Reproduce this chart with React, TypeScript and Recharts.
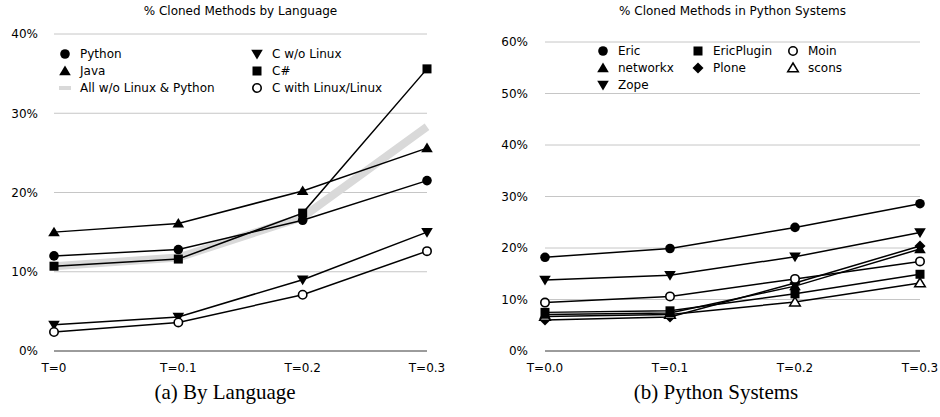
import { LineChart, Line, XAxis, YAxis, CartesianGrid, Legend, ReferenceLine } from "recharts";

const langTicks = ["T=0", "T=0.1", "T=0.2", "T=0.3"];
const python = [12.0, 12.8, 16.5, 21.5];
const java = [15.0, 16.1, 20.2, 25.6];
const allNoLinuxPython = [10.7, 11.8, 16.9, 28.3];
const cNoLinux = [3.3, 4.3, 9.0, 15.0];
const cSharp = [10.7, 11.6, 17.4, 35.6];
const cWithLinux = [2.4, 3.6, 7.1, 12.6];
const langYTicks = [0, 10, 20, 30, 40];

const sysTicks = ["T=0.0", "T=0.1", "T=0.2", "T=0.3"];
const eric = [18.2, 19.9, 24.0, 28.6];
const ericPlugin = [7.5, 7.8, 11.1, 14.9];
const moin = [9.4, 10.6, 14.0, 17.4];
const networkx = [7.1, 7.4, 12.6, 19.8];
const plone = [6.0, 6.6, 13.2, 20.4];
const scons = [6.7, 7.1, 9.5, 13.2];
const zope = [13.8, 14.7, 18.3, 23.0];
const sysYTicks = [0, 10, 20, 30, 40, 50, 60];

type Shape = "circle" | "openCircle" | "triUp" | "triDown" | "square" | "diamond" | "openTri" | "band";

type Series = { key: string; name: string; values: number[]; shape: Shape };

// legend order is row-wise, the drawing order is set separately
const langSeries: Series[] = [
  { key: "python", name: "Python", values: python, shape: "circle" },
  { key: "cNoLinux", name: "C w/o Linux", values: cNoLinux, shape: "triDown" },
  { key: "java", name: "Java", values: java, shape: "triUp" },
  { key: "cSharp", name: "C#", values: cSharp, shape: "square" },
  { key: "all", name: "All w/o Linux & Python", values: allNoLinuxPython, shape: "band" },
  { key: "cWithLinux", name: "C with Linux/Linux", values: cWithLinux, shape: "openCircle" },
];

const sysSeries: Series[] = [
  { key: "eric", name: "Eric", values: eric, shape: "circle" },
  { key: "ericPlugin", name: "EricPlugin", values: ericPlugin, shape: "square" },
  { key: "moin", name: "Moin", values: moin, shape: "openCircle" },
  { key: "networkx", name: "networkx", values: networkx, shape: "triUp" },
  { key: "plone", name: "Plone", values: plone, shape: "diamond" },
  { key: "scons", name: "scons", values: scons, shape: "openTri" },
  { key: "zope", name: "Zope", values: zope, shape: "triDown" },
];

const toRows = (ticks: string[], series: Series[]) =>
  ticks.map((t, i) => {
    const row: Record<string, string | number> = { t };
    series.forEach((s) => (row[s.key] = s.values[i]));
    return row;
  });

const FONT = "'DejaVu Sans', sans-serif";

function Marker({ shape, cx, cy }: { shape: Shape; cx: number; cy: number }) {
  switch (shape) {
    case "circle":
      return <circle cx={cx} cy={cy} r={4.8} fill="#000" />;
    case "openCircle":
      return <circle cx={cx} cy={cy} r={4.2} fill="#fff" stroke="#000" strokeWidth={1.6} />;
    case "triUp":
      return <polygon points={`${cx},${cy - 5.5} ${cx + 5.8},${cy + 4.2} ${cx - 5.8},${cy + 4.2}`} fill="#000" />;
    case "triDown":
      return <polygon points={`${cx},${cy + 5.5} ${cx + 5.8},${cy - 4.2} ${cx - 5.8},${cy - 4.2}`} fill="#000" />;
    case "openTri":
      return (
        <polygon
          points={`${cx},${cy - 5} ${cx + 5.3},${cy + 3.8} ${cx - 5.3},${cy + 3.8}`}
          fill="#fff"
          stroke="#000"
          strokeWidth={1.5}
        />
      );
    case "square":
      return <rect x={cx - 4.5} y={cy - 4.5} width={9} height={9} fill="#000" />;
    case "diamond":
      return <polygon points={`${cx},${cy - 5.5} ${cx + 5.5},${cy} ${cx},${cy + 5.5} ${cx - 5.5},${cy}`} fill="#000" />;
    case "band":
      return <line x1={cx - 6} y1={cy} x2={cx + 6} y2={cy} stroke="#d9d9d9" strokeWidth={4} />;
  }
  return null;
}

function LegendBox({ series, colWidth, cols }: { series: Series[]; colWidth: number; cols: number }) {
  return (
    <div style={{ display: "grid", gridTemplateColumns: `repeat(${cols}, ${colWidth}px)`, fontFamily: FONT, fontSize: 12 }}>
      {series.map((s) => (
        <div key={s.key} style={{ display: "flex", alignItems: "center", height: 16.7, color: "#000" }}>
          <svg width={14} height={14} style={{ marginRight: 8 }}>
            <Marker shape={s.shape} cx={7} cy={7} />
          </svg>
          <span>{s.name}</span>
        </div>
      ))}
    </div>
  );
}

function seriesLine(s: Series) {
  if (s.shape === "band") {
    return (
      <Line
        key={s.key}
        dataKey={s.key}
        stroke="#d9d9d9"
        strokeWidth={8}
        dot={false}
        legendType="none"
        isAnimationActive={false}
      />
    );
  }
  return (
    <Line
      key={s.key}
      dataKey={s.key}
      stroke="#000"
      strokeWidth={1.5}
      dot={(p: any) => <Marker key={`${s.key}-${p.index}`} shape={s.shape} cx={p.cx} cy={p.cy} />}
      isAnimationActive={false}
    />
  );
}

const tickStyle = { fill: "#000", fontSize: 12, fontFamily: FONT };

export default function App() {
  const langRows = toRows(langTicks, langSeries);
  const sysRows = toRows(sysTicks, sysSeries);
  const langDraw = [langSeries[4], langSeries[0], langSeries[2], langSeries[1], langSeries[3], langSeries[5]];
  const sysDraw = [sysSeries[4], sysSeries[5], sysSeries[3], sysSeries[1], sysSeries[2], sysSeries[6], sysSeries[0]];

  return (
    <div style={{ position: "absolute", left: 0, top: 0, width: 940, height: 417, background: "#fff" }}>
      <div style={{ position: "absolute", left: 54, width: 373, top: 4, textAlign: "center", fontFamily: FONT, fontSize: 12 }}>
        % Cloned Methods by Language
      </div>
      <div style={{ position: "absolute", left: 0, top: 0 }}>
        <LineChart width={470} height={380} data={langRows} margin={{ top: 34, right: 43, bottom: 9, left: 14 }}>
          <CartesianGrid vertical={false} stroke="#c6c6c6" />
          <ReferenceLine y={0} stroke="#555" />
          <XAxis dataKey="t" axisLine={false} tickLine={false} tickSize={0} tickMargin={12} height={20} tick={tickStyle} interval={0} />
          <YAxis
            domain={[0, 40]}
            ticks={langYTicks}
            width={40}
            axisLine={false}
            tickLine={false}
            tickSize={0}
            tickMargin={16}
            tick={tickStyle}
            tickFormatter={(v) => `${v}%`}
          />
          <Legend
            layout="horizontal"
            verticalAlign="middle"
            align="center"
            wrapperStyle={{ top: 46, left: 58, width: 400, height: 52 }}
            content={() => <LegendBox series={langSeries} colWidth={192} cols={2} />}
          />
          {langDraw.map(seriesLine)}
        </LineChart>
      </div>
      <div style={{ position: "absolute", left: 0, width: 450, top: 380, textAlign: "center", fontFamily: "'Liberation Serif', serif", fontSize: 21 }}>
        (a) By Language
      </div>

      <div style={{ position: "absolute", left: 545, width: 375, top: 4, textAlign: "center", fontFamily: FONT, fontSize: 12 }}>
        % Cloned Methods in Python Systems
      </div>
      <div style={{ position: "absolute", left: 470, top: 0 }}>
        <LineChart width={470} height={380} data={sysRows} margin={{ top: 42, right: 20, bottom: 9, left: 35 }}>
          <CartesianGrid vertical={false} stroke="#c6c6c6" />
          <ReferenceLine y={0} stroke="#555" />
          <XAxis dataKey="t" axisLine={false} tickLine={false} tickSize={0} tickMargin={12} height={20} tick={tickStyle} interval={0} />
          <YAxis
            domain={[0, 60]}
            ticks={sysYTicks}
            width={40}
            axisLine={false}
            tickLine={false}
            tickSize={0}
            tickMargin={17}
            tick={tickStyle}
            tickFormatter={(v) => `${v}%`}
          />
          <Legend
            layout="horizontal"
            verticalAlign="middle"
            align="center"
            wrapperStyle={{ top: 43, left: 126, width: 300, height: 52 }}
            content={() => <LegendBox series={sysSeries} colWidth={95} cols={3} />}
          />
          {sysDraw.map(seriesLine)}
        </LineChart>
      </div>
      <div style={{ position: "absolute", left: 485, width: 462, top: 380, textAlign: "center", fontFamily: "'Liberation Serif', serif", fontSize: 21 }}>
        (b) Python Systems
      </div>
    </div>
  );
}
